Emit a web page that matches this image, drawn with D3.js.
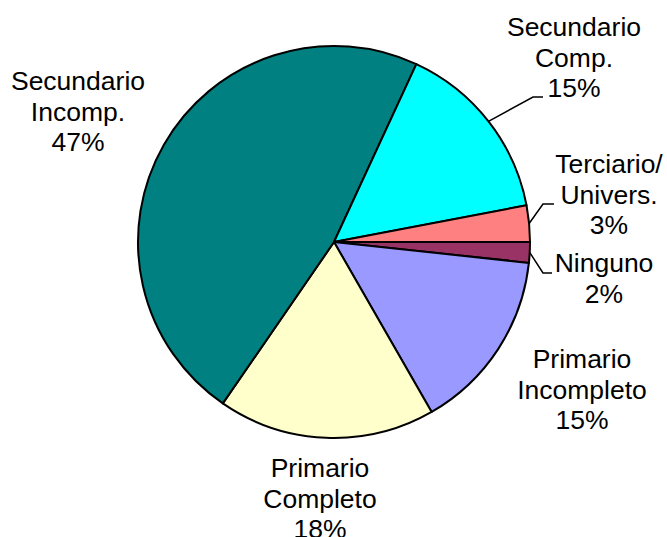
<!DOCTYPE html>
<html>
<head>
<meta charset="utf-8">
<script src="https://cdn.jsdelivr.net/npm/d3@7"></script>
<style>
  body { margin: 0; background: #fff; }
  text { font-family: "Liberation Sans", Arial, sans-serif; font-size: 26.5px; fill: #000; }
</style>
</head>
<body>
<svg id="chart" width="667" height="537"></svg>
<script>
// data, clockwise from 3 o'clock
const categories = ["Ninguno", "Primario Incompleto", "Primario Completo", "Secundario Incomp.", "Secundario Comp.", "Terciario/ Univers."];
const shares = [1.7, 15.0, 17.9, 47.3, 15.1, 3.0];
const labelLines = [["Ninguno"], ["Primario", "Incompleto"], ["Primario", "Completo"], ["Secundario", "Incomp."], ["Secundario", "Comp."], ["Terciario/", "Univers."]];
const sliceColors = ["#993366", "#9999FF", "#FFFFCC", "#008080", "#00FFFF", "#FF8080"];

// label layout: center x, first baseline y, optional leader (elbow, end)
const labelLayout = [
    { x: 604, y: 272, leader: [[543, 273], [552, 273]] },
    { x: 582, y: 368 },
    { x: 320, y: 477 },
    { x: 78, y: 90 },
    { x: 574, y: 36, leader: [[533, 97], [543, 97]] },
    { x: 609, y: 173, leader: [[543, 204], [554, 204]] }
];

const cx = 334, cy = 242, radius = 196, lineH = 30.5;

const data = categories.map((c, i) => ({ name: c, value: shares[i], lines: labelLines[i], idx: i }));

const pie = d3.pie()
    .sort(null)
    .value(d => d.value)
    .startAngle(Math.PI / 2)
    .endAngle(Math.PI / 2 + 2 * Math.PI);

const arc = d3.arc().innerRadius(0).outerRadius(radius);
const edgeArc = d3.arc().innerRadius(radius).outerRadius(radius);

const svg = d3.select("#chart");
const g = svg.append("g").attr("transform", "translate(" + cx + "," + cy + ")");

const arcs = pie(data);

g.selectAll("path.slice")
    .data(arcs)
    .enter().append("path")
    .attr("class", "slice")
    .attr("d", arc)
    .attr("fill", d => sliceColors[d.data.idx])
    .attr("stroke", "#000")
    .attr("stroke-width", 2)
    .attr("stroke-linejoin", "round");

// leader lines
arcs.forEach(d => {
    const lay = labelLayout[d.data.idx];
    if (!lay.leader) return;
    const p = edgeArc.centroid(d);
    const pts = [[cx + p[0], cy + p[1]]].concat(lay.leader);
    svg.append("path")
        .attr("d", d3.line()(pts))
        .attr("fill", "none")
        .attr("stroke", "#000")
        .attr("stroke-width", 1.5);
});

// labels
arcs.forEach(d => {
    const lay = labelLayout[d.data.idx];
    const lines = d.data.lines.concat([Math.round(d.data.value) + "%"]);
    const t = svg.append("text")
        .attr("text-anchor", "middle");
    lines.forEach((s, k) => {
        t.append("tspan")
            .attr("x", lay.x)
            .attr("y", lay.y + k * lineH)
            .text(s);
    });
});
</script>
</body>
</html>
